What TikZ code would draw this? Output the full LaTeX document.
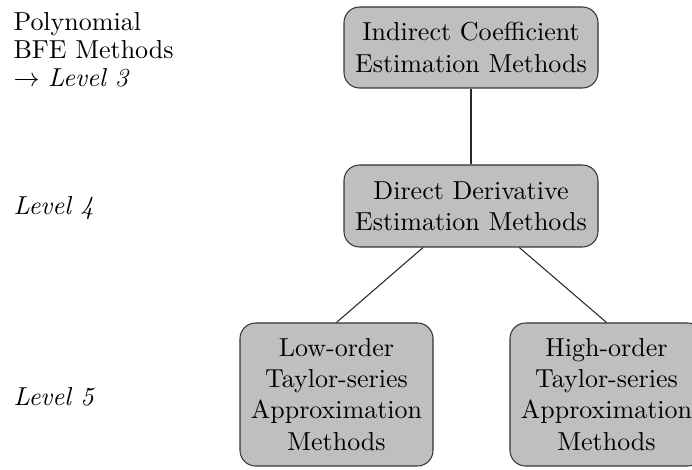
\documentclass[tikz,border=0pt]{standalone}
% 1 unit = 1/2.6 pt, y axis pointing down
\tikzset{
  px/.style={x=0.384615pt,y=-0.384615pt},
  methodbox/.style={draw=black!80, fill=black!25, rounded corners=6pt, align=center,
    inner xsep=4pt, inner ysep=4.5pt, font=\rmfamily},
  levellabel/.style={anchor=west, align=left, inner sep=0pt, font=\itshape},
  link/.style={draw=black!85, line width=0.4pt}
}
\begin{document}
\begin{tikzpicture}[px]
  \useasboundingbox (0,0) rectangle (692,470);
  % tree levels
  \node[methodbox, minimum width=254*0.384615pt, minimum height=81*0.384615pt] (ice) at (471,47.5)
    {Indirect Coefficient\\Estimation Methods};
  \node[methodbox, minimum width=254*0.384615pt, minimum height=82*0.384615pt] (dde) at (471,206)
    {Direct Derivative\\Estimation Methods};
  \node[methodbox, minimum width=193*0.384615pt, minimum height=143*0.384615pt] (low) at (336.5,394.5)
    {Low-order\\Taylor-series\\Approximation\\Methods};
  \node[methodbox, minimum width=193*0.384615pt, minimum height=143*0.384615pt] (high) at (606.5,394.5)
    {High-order\\Taylor-series\\Approximation\\Methods};
  \draw[link] (ice) -- (dde);
  \draw[link] (dde) -- (low.north);
  \draw[link] (dde) -- (high.north);
  % level captions on the left
  \node[levellabel, font=\rmfamily, align=left] (l3) at (13,49.5)
    {Polynomial\\[-1.2pt]BFE Methods\\[-1.2pt]$\rightarrow$ \textit{Level 3}};
  \node[levellabel] (l4) at (13,208) {Level 4};
  \node[levellabel] (l5) at (13,396.5) {Level 5};
\end{tikzpicture}
\end{document}
